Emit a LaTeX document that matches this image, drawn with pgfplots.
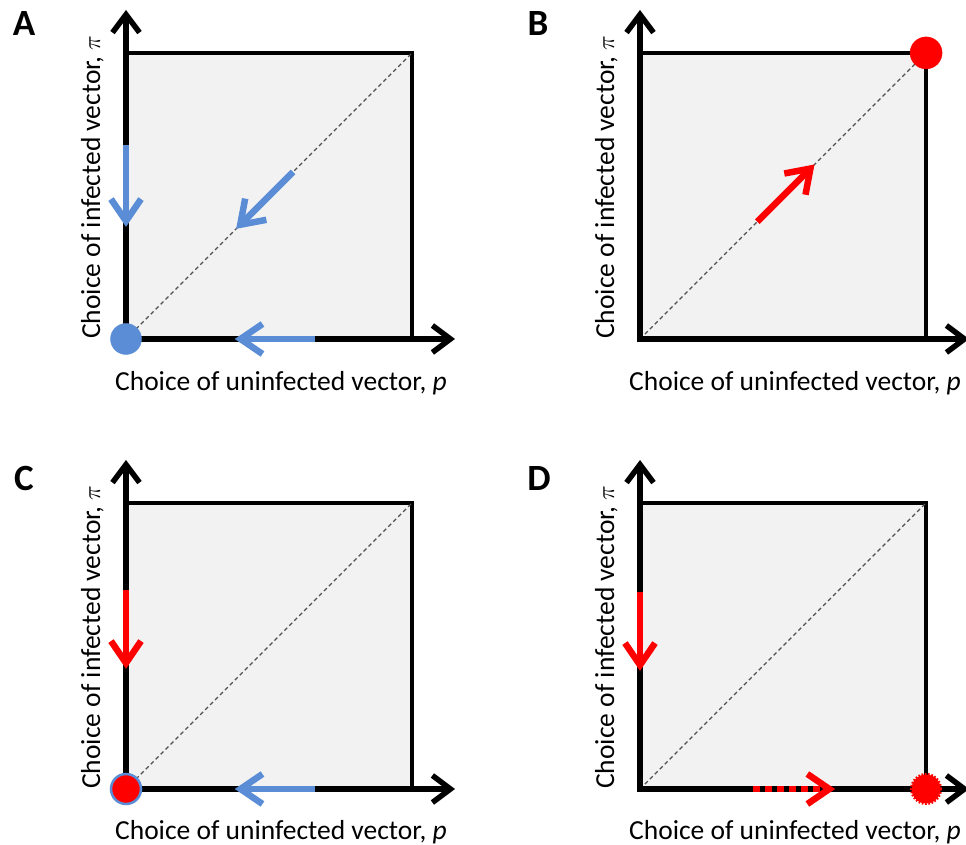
\documentclass[border=0pt]{standalone}
\usepackage{pgfplots}
\pgfplotsset{compat=1.18}
\usepackage{fontspec}
\setmainfont{Carlito}
\usetikzlibrary{arrows.meta}
\definecolor{myblue}{HTML}{5A8DD6}
\definecolor{myred}{HTML}{FF0000}
\definecolor{sqgray}{HTML}{F2F2F2}
\definecolor{diag}{HTML}{505050}
\pgfplotsset{
 panel/.style={scale only axis, width=329pt, height=329pt, xmin=0, xmax=1.15, ymin=0, ymax=1.15, hide axis, clip=false, anchor=south west},
 axisarrow/.style={black, line width=5.5pt, line join=miter, {Straight Barb[length=18pt,width=27pt]}-{Straight Barb[length=18pt,width=27pt]}},
 colarrow/.style={line width=6.5pt, -{Straight Barb[length=22pt,width=30pt]}},
}
\newcommand{\basepanel}{%
 \addplot[draw=none, fill=sqgray] coordinates {(0,0) (1,0) (1,1) (0,1)} -- cycle;
 \addplot[black, line width=3.5pt, line join=miter] coordinates {(0,1) (1,1) (1,0)};
 \addplot[diag, line width=1.3pt, dash pattern=on 4pt off 3pt] coordinates {(0,0) (1,1)};
 \addplot[axisarrow] coordinates {(0,1.15) (0,0) (1.15,0)};
}
\tikzset{lab/.style={font=\fontsize{27.5}{32}\selectfont, inner sep=0pt, anchor=base},
 let/.style={font=\fontsize{37}{42}\selectfont\bfseries, inner sep=0pt}}
\newcommand{\xlab}{Choice of uninfected vector, \textit{p}}
\newcommand{\ylab}{Choice of infected vector, $\pi$}
\begin{document}
\begin{tikzpicture}
\useasboundingbox (0,0) rectangle (966pt,845pt);
% Panel A
\begin{axis}[panel, at={(126pt,506pt)}]
\basepanel
\addplot[colarrow, myblue] coordinates {(0,0.678) (0,0.392)};
\addplot[colarrow, myblue] coordinates {(0.584,0.584) (0.385,0.385)};
\addplot[colarrow, myblue] coordinates {(0.66,0) (0.38,0)};
\addplot[only marks, mark=*, mark size=15.5pt, mark options={fill=myblue, draw=myblue}] coordinates {(0,0)};
\end{axis}
% Panel B
\begin{axis}[panel, at={(640pt,506pt)}]
\basepanel
\addplot[colarrow, myred] coordinates {(0.41,0.41) (0.61,0.61)};
\addplot[only marks, mark=*, mark size=16pt, mark options={fill=myred, draw=myred}] coordinates {(1,1)};
\end{axis}
% Panel C
\begin{axis}[panel, at={(126pt,56pt)}]
\basepanel
\addplot[colarrow, myred] coordinates {(0,0.696) (0,0.42)};
\addplot[colarrow, myblue] coordinates {(0.66,0) (0.38,0)};
\addplot[only marks, mark=*, mark size=15pt, mark options={fill=myred, draw=myblue, line width=2.5pt}] coordinates {(0,0)};
\end{axis}
% Panel D
\begin{axis}[panel, at={(640pt,56pt)}]
\basepanel
\addplot[colarrow, myred] coordinates {(0,0.689) (0,0.413)};
\addplot[colarrow, myred, dash pattern=on 7pt off 5pt] coordinates {(0.395,0) (0.682,0)};
\addplot[only marks, mark=*, mark size=14.5pt, mark options={fill=myred, draw=myred, line width=3pt, dash pattern=on 1.6pt off 1.6pt}] coordinates {(1,0)};
\end{axis}
% labels
\node[lab] at (281pt,454pt) {\xlab};
\node[lab, rotate=90] at (100pt,658pt) {\ylab};
\node[lab] at (795pt,454pt) {\xlab};
\node[lab, rotate=90] at (614pt,658pt) {\ylab};
\node[lab] at (281pt,5pt) {\xlab};
\node[lab, rotate=90] at (100pt,208pt) {\ylab};
\node[lab] at (795pt,5pt) {\xlab};
\node[lab, rotate=90] at (614pt,208pt) {\ylab};
\node[let] at (24pt,821pt) {A};
\node[let] at (538pt,821pt) {B};
\node[let] at (24pt,366pt) {C};
\node[let] at (539pt,366pt) {D};
\end{tikzpicture}
\end{document}
